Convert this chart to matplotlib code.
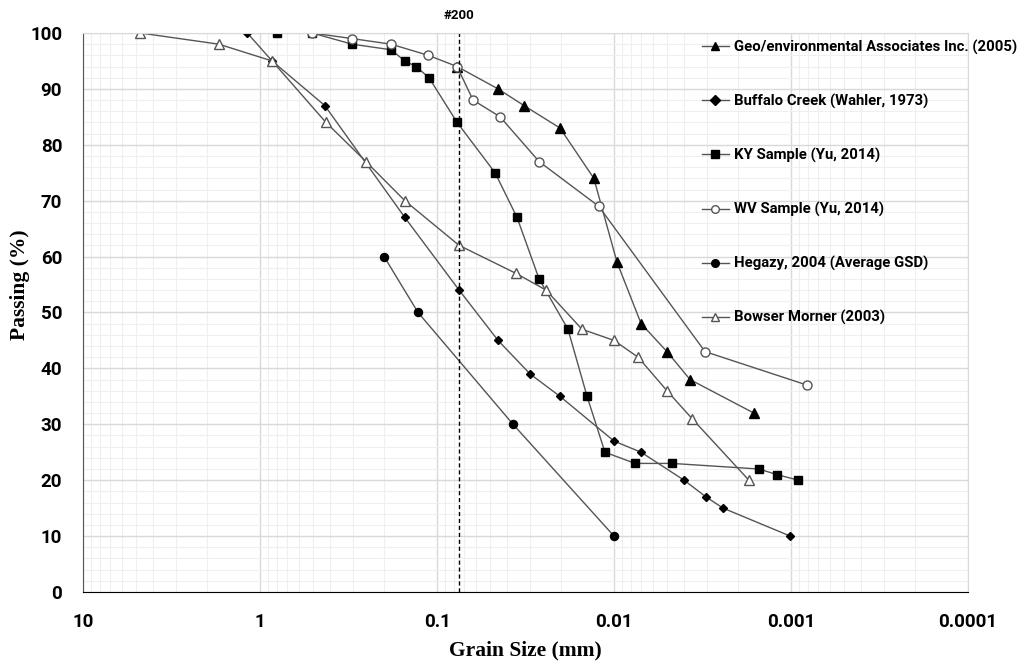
import matplotlib.pyplot as plt
import numpy as np
from matplotlib.ticker import LogLocator, MultipleLocator, FixedLocator, FixedFormatter

# grain size (mm) / passing (%)
geo_x = [0.077, 0.0452, 0.0322, 0.0202, 0.013, 0.00962, 0.00703, 0.00502, 0.00372, 0.00162]
geo_y = [94, 90, 87, 83, 74, 59, 48, 43, 38, 32]

buf_x = [1.18, 0.855, 0.43, 0.152, 0.075, 0.0452, 0.0298, 0.0202, 0.01, 0.00703, 0.00402, 0.00302, 0.00242, 0.00101]
buf_y = [100, 95, 87, 67, 54, 45, 39, 35, 27, 25, 20, 17, 15, 10]

ky_x = [0.802, 0.508, 0.302, 0.182, 0.152, 0.1315, 0.111, 0.077, 0.047, 0.0353, 0.0265, 0.0182, 0.0142,
        0.01125, 0.0076, 0.0047, 0.00152, 0.0012, 0.00091]
ky_y = [100, 100, 98, 97, 95, 94, 92, 84, 75, 67, 56, 47, 35, 25, 23, 23, 22, 21, 20]

wv_x = [0.508, 0.302, 0.182, 0.112, 0.077, 0.0626, 0.044, 0.0265, 0.0122, 0.00306, 0.00081]
wv_y = [100, 99, 98, 96, 94, 88, 85, 77, 69, 43, 37]

heg_x = [0.199, 0.128, 0.0372, 0.01]
heg_y = [60, 50, 30, 10]

bow_x = [4.76, 1.71, 0.855, 0.424, 0.252, 0.152, 0.075, 0.0358, 0.0242, 0.01517, 0.01, 0.00731,
         0.00502, 0.00362, 0.00173]
bow_y = [100, 98, 95, 84, 77, 70, 62, 57, 54, 47, 45, 42, 36, 31, 20]

sieve_200 = 0.075
x_ticks = [10, 1, 0.1, 0.01, 0.001, 0.0001]
x_labels = ['10', '1', '0.1', '0.01', '0.001', '0.0001']

fig = plt.figure(figsize=(10.21, 6.65), dpi=100)
ax = fig.add_axes([0.0813, 0.1098, 0.8668, 0.8406])

line_c = '#555555'
series = [
    (geo_x, geo_y, '^', 'black', 'Geo/environmental Associates Inc. (2005)', 6.5),
    (buf_x, buf_y, 'D', 'black', 'Buffalo Creek (Wahler, 1973)', 4.2),
    (ky_x, ky_y, 's', 'black', 'KY Sample (Yu, 2014)', 5.8),
    (wv_x, wv_y, 'o', 'white', 'WV Sample (Yu, 2014)', 6.5),
    (heg_x, heg_y, 'o', 'black', 'Hegazy, 2004 (Average GSD)', 5.8),
    (bow_x, bow_y, '^', 'white', 'Bowser Morner (2003)', 6.8),
]
for xs, ys, m, fc, lab, ms in series:
    ec = 'black' if fc == 'black' else '#555555'
    ax.plot(xs, ys, color=line_c, lw=1.0, marker=m, ms=ms, mfc=fc, mec=ec, mew=1.0, label=lab)

ax.axvline(sieve_200, color='black', ls=(0, (3, 2)), lw=1.0)
ax.text(sieve_200, 1.02, '#200', transform=ax.get_xaxis_transform(), ha='center', va='bottom',
        fontsize=9.5, fontweight='bold', family='Roboto')

ax.set_xscale('log')
ax.set_xlim(10, 0.0001)
ax.set_ylim(0, 100)
ax.xaxis.set_major_locator(FixedLocator(x_ticks))
ax.xaxis.set_major_formatter(FixedFormatter(x_labels))
ax.xaxis.set_minor_locator(LogLocator(base=10, subs=np.arange(2, 10), numticks=50))
ax.yaxis.set_major_locator(MultipleLocator(10))
ax.yaxis.set_minor_locator(MultipleLocator(2))
ax.grid(which='major', color='#d9d9d9', lw=1.0)
ax.grid(which='minor', color='#efefef', lw=0.8)
ax.set_axisbelow(True)
ax.tick_params(which='both', length=0)
ax.tick_params(axis='x', pad=15)
ax.tick_params(axis='y', pad=15)
for lbl in ax.get_xticklabels() + ax.get_yticklabels():
    lbl.set_fontfamily('Roboto')
    lbl.set_fontweight('bold')
    lbl.set_fontsize(13.5)

for s in ['top', 'right']:
    ax.spines[s].set_color('#d9d9d9')
ax.spines['left'].set_color('#555555')
ax.spines['bottom'].set_color('black')

ax.set_xlabel('Grain Size (mm)', family='Liberation Serif', fontweight='bold', fontsize=15.5, va='center')
ax.set_ylabel('Passing (%)', family='Liberation Serif', fontweight='bold', fontsize=15.5, va='center')
ax.xaxis.set_label_coords(0.5, -0.104)
ax.yaxis.set_label_coords(-0.071, 0.55)

leg = ax.legend(loc='upper left', bbox_to_anchor=(0.684, 1.012), frameon=False, labelspacing=2.63,
                handlelength=1.85, handletextpad=0.3, borderaxespad=0.5,
                prop={'family': 'Roboto', 'weight': 'bold', 'size': 10.7})
for h in leg.legend_handles:
    h.set_markersize(5.5)

fig.savefig('out.png', dpi=100)
